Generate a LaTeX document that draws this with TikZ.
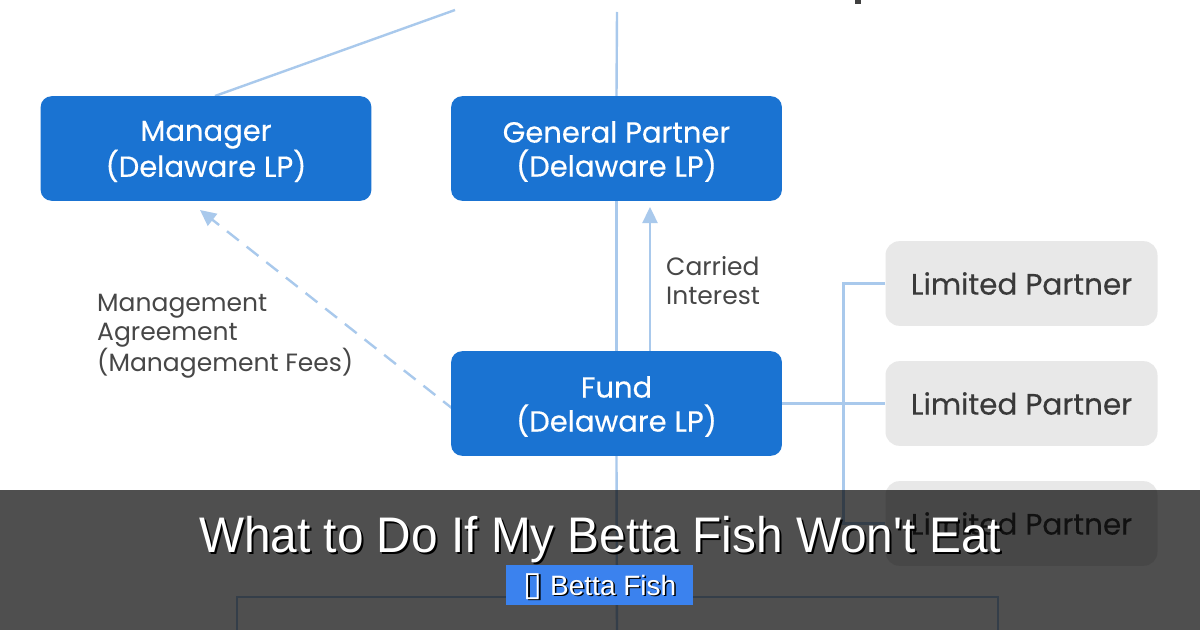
\documentclass[tikz,border=0pt]{standalone}
\usepackage{fontspec}
\setmainfont{Poppins}
\newfontfamily\popm[FakeBold=0.35]{Poppins}
\newfontfamily\titlefont[FakeStretch=0.955]{Liberation Sans}
\newfontfamily\tagfont{Liberation Sans}
\newfontfamily\symfont{DejaVu Sans}
\usetikzlibrary{arrows.meta,calc}
\definecolor{boxblue}{HTML}{1A73D2}
\definecolor{lpgray}{HTML}{E8E8E8}
\definecolor{lptext}{HTML}{3A3A3A}
\definecolor{labtext}{HTML}{474747}
\definecolor{conn}{HTML}{A9C9EC}
\definecolor{tagblue}{HTML}{3B82EE}
\tikzset{
  bluebox/.style={fill=boxblue, rounded corners=11, minimum width=332, minimum height=105, inner sep=0pt},
  boxtext/.style={text=white, align=center, inner sep=0pt,
    font=\popm\fontsize{29bp}{34bp}\selectfont},
  lpbox/.style={fill=lpgray, rounded corners=14, minimum width=273, minimum height=85,
    text=lptext, inner sep=0pt, font=\popm\fontsize{29.5bp}{30bp}\selectfont},
  lab/.style={text=labtext, align=left, inner sep=0pt, anchor=north west,
    font=\fontsize{25bp}{29bp}\selectfont},
  link/.style={draw=conn, line width=2.4bp},
  tip/.style={-{Triangle[length=16bp,width=15bp]}},
}
\begin{document}
\begin{tikzpicture}[x=1bp,y=-1bp]
\useasboundingbox (0,0) rectangle (1200,630);
\fill[white] (0,0) rectangle (1200,630);
% free ends
\coordinate (tl) at (455,10);
\coordinate (vtop) at (617,12);
\coordinate (vbot) at (617,640);
\coordinate (bl) at (237,640);
\coordinate (br) at (998,640);
\coordinate (bj) at (617,597);
% box outlines (placeholders for connectors)
\path (206,148.5) node[bluebox, fill=none] (mgr) {};
\path (616.5,148.5) node[bluebox, fill=none] (gp) {};
\path (616.5,403.5) node[bluebox, fill=none] (fund) {};
% connectors (behind boxes)
\draw[link] ($(mgr.north)+(9,0)$) -- (tl);
\draw[link] (vtop) -- (gp.north);
\draw[link] (gp.south) -- (fund.north);
\draw[link] (fund.south) -- (vbot);
\draw[link] (bl) |- (bj) -| (br);
\draw[link, tip] ($(fund.north)+(33.5,0)$) -- ($(gp.south)+(33.5,6)$);
\draw[link, tip, dash pattern=on 15bp off 10bp] ($(fund.west)+(4,7)$) -- ($(mgr.south)+(-6,9)$);
% boxes
\node[bluebox] (mgrb) at (mgr) {};
\node[bluebox] (gpb) at (gp) {};
\node[bluebox] (fundb) at (fund) {};
\node[boxtext] (mgrt) at ($(mgr)+(0,3)$) {Manager\\(Delaware LP)};
\node[boxtext] (gpt) at ($(gp)+(0,3)$) {General Partner\\(Delaware LP)};
\node[boxtext] (fundt) at ($(fund)+(0,3)$) {Fund\\(Delaware LP)};
\node[lpbox] (lp1) at (1021.5,283.5) {Limited Partner};
\node[lpbox] (lp2) at (1021.5,403.5) {Limited Partner};
\node[lpbox] (lp3) at (1021.5,523.5) {Limited Partner};
\draw[link] (fundb.east) -- (lp2.west);
\draw[link] (lp1.west) -- ++(-42,0) |- (lp3.west);
% labels
\node[lab] (ci) at (666,256) {Carried\\Interest};
\node[lab] (ma) at (97,294) {Management\\Agreement\\(Management Fees)};
% small dark mark at top
\fill[black!75] (855,0) rectangle (861,4);
% overlay
\fill[black, opacity=0.69] (0,490) rectangle (1200,630);
\node[text=black, font=\titlefont\fontsize{50bp}{60bp}\selectfont, inner sep=0pt] (tsh) at (602,542) {What to Do If My Betta Fish Won't Eat};
\node[text=white, font=\titlefont\fontsize{50bp}{60bp}\selectfont, inner sep=0pt] (title) at (600,540) {What to Do If My Betta Fish Won't Eat};
\node[fill=tagblue, minimum width=187, minimum height=40, inner sep=0pt] (tag) at (599.5,585) {};
\node[text=black, font=\tagfont\fontsize{28bp}{30bp}\selectfont, inner sep=0pt] (tagsh) at (601.5,588) {{\symfont\fontsize{34bp}{30bp}\selectfont ▯} Betta Fish};
\node[text=white, font=\tagfont\fontsize{28bp}{30bp}\selectfont, inner sep=0pt] (tagt) at (600,586.5) {{\symfont\fontsize{34bp}{30bp}\selectfont ▯} Betta Fish};
\end{tikzpicture}
\end{document}
